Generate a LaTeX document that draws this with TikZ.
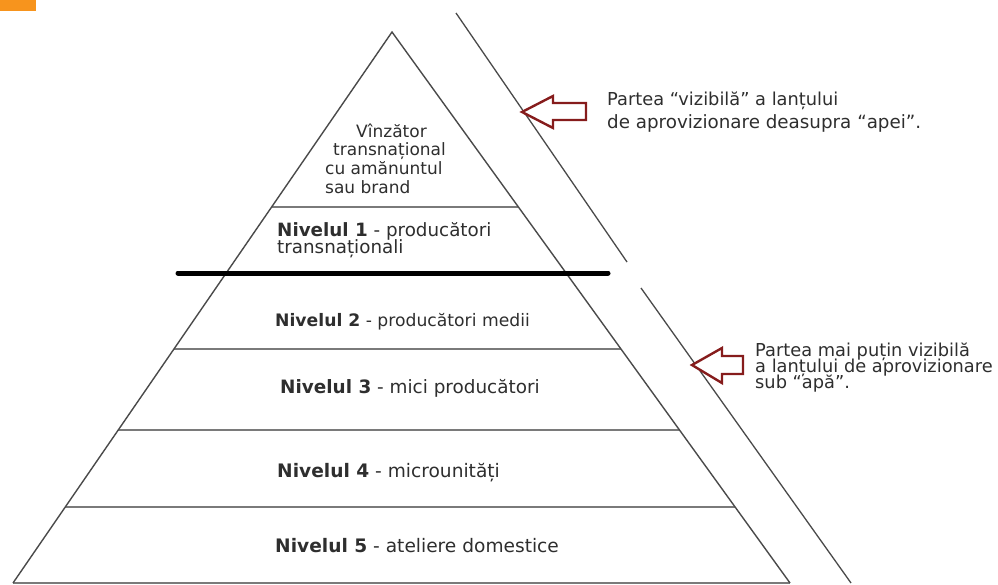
\documentclass[tikz,border=0pt]{standalone}
\usepackage{fontspec}
\setmainfont{DejaVu Sans}
\usetikzlibrary{calc}
\definecolor{orng}{HTML}{F7941D}
\definecolor{arrred}{HTML}{861C1C}
\definecolor{edgegray}{HTML}{4A4A4A}
\definecolor{lvlgray}{HTML}{7A7A7A}
\definecolor{txt}{HTML}{2E2E2E}
\begin{document}
\begin{tikzpicture}[x=1pt,y=-1pt,
  edge/.style={draw=edgegray,line width=1.4pt},
  lvl/.style={draw=lvlgray,line width=1.6pt},
  water/.style={draw=edgegray,line width=1.3pt},
  hollowarrow/.style={draw=arrred,fill=white,line width=2.4pt,line join=miter},
  lbl/.style={anchor=base west,inner sep=0pt,text=txt,font=\fontsize{#1}{20}\selectfont},
  lbl/.default=17]
\useasboundingbox (0,0) rectangle (998,584);
\fill[orng] (0,0) rectangle (36,11);
% pyramid
\coordinate (A) at (392,32);
\coordinate (BL) at (13,583);
\coordinate (BR) at (790,583);
\draw[lvl] (BL) -- (BR);
\foreach \t in {0.3176,0.5753,0.7223,0.8621}
  \draw[lvl] ($(A)!\t!(BL)$) -- ($(A)!\t!(BR)$);
\draw[edge,line join=miter] (BL) -- (A) -- (BR);
% water line
\coordinate (T1) at (178,273);
\coordinate (T2) at (608,273);
\draw[line width=5pt,line cap=round] (T1) -- (T2);
\coordinate (W1) at (456,13);
\coordinate (W2) at (627,262);
\coordinate (W3) at (641,288);
\coordinate (W4) at (851,583);
\draw[water] (W1) -- (W2);
\draw[water] (W3) -- (W4);
% arrows
\draw[hollowarrow] (522,112) -- (553,96) -- (553,103) -- (586,103) -- (586,120) -- (553,120) -- (553,128) -- cycle;
\draw[hollowarrow] (692,365) -- (722,348) -- (722,356) -- (743,356) -- (743,374) -- (722,374) -- (722,383) -- cycle;
% labels
\node[lbl] (v1) at (356,137) {Vînzător};
\node[lbl] (v2) at (333,155) {transnațional};
\node[lbl] (v3) at (325,174) {cu amănuntul};
\node[lbl] (v4) at (325,193) {sau brand};
\node[lbl=18.3] (n1) at (277,236) {\textbf{Nivelul 1} - producători};
\node[lbl=18.3] (n1b) at (277,253) {transnaționali};
\node[lbl=17.2] (n2) at (275,326) {\textbf{Nivelul 2} - producători medii};
\node[lbl=18.4] (n3) at (280,393) {\textbf{Nivelul 3} - mici producători};
\node[lbl=18.6] (n4) at (277,477) {\textbf{Nivelul 4} - microunități};
\node[lbl=18.6] (n5) at (275,552) {\textbf{Nivelul 5} - ateliere domestice};
\node[lbl=17.8] (p1) at (607,105) {Partea “vizibilă” a lanțului};
\node[lbl=18.3] (p2) at (607,128) {de aprovizionare deasupra “apei”.};
\node[lbl=17.8] (q1) at (755,356) {Partea mai puțin vizibilă};
\node[lbl=17.8] (q2) at (755,372) {a lanțului de aprovizionare};
\node[lbl=17.8] (q3) at (755,388) {sub “apă”.};
\end{tikzpicture}
\end{document}
